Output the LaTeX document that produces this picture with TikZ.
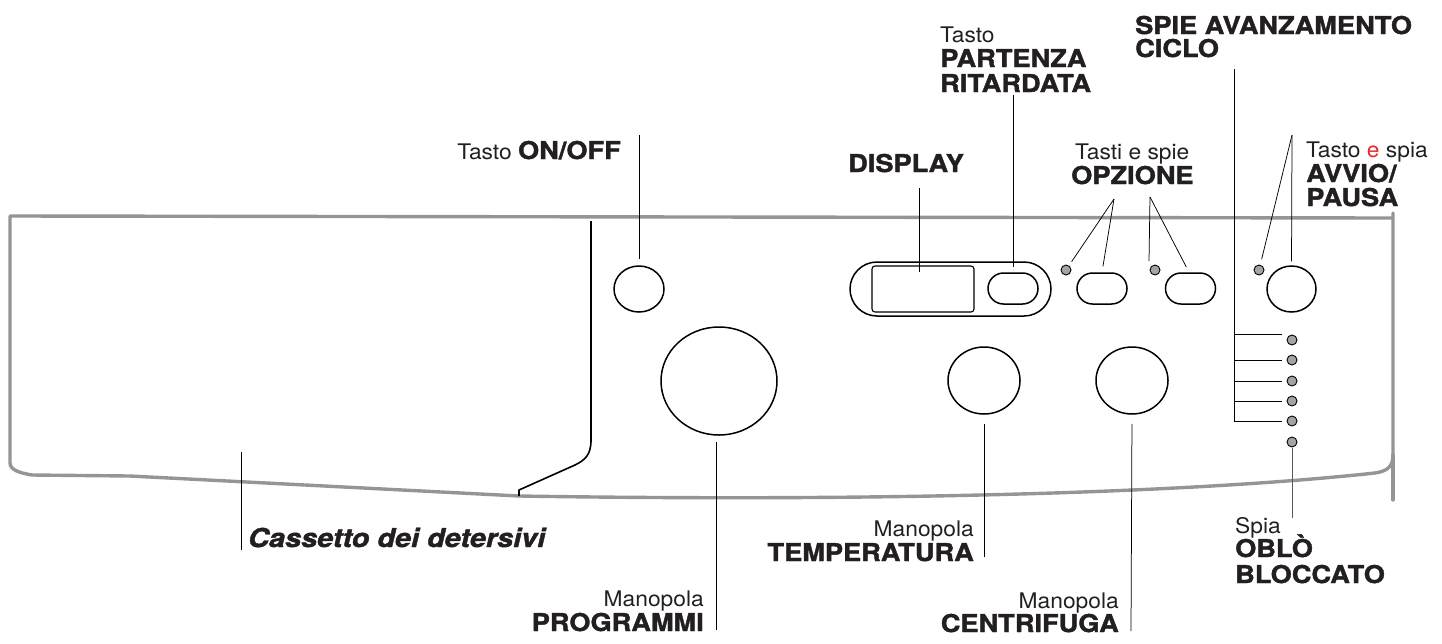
\documentclass[tikz,border=0pt]{standalone}
\usepackage{fontspec}
\usetikzlibrary{shapes.geometric}
\newfontfamily\hvyfam[FakeStretch=1.11,FakeBold=1.6]{TeX Gyre Heros}
\newfontfamily\lgtfam[FakeStretch=1.06]{TeX Gyre Heros}
\newcommand\heavytxt{\hvyfam\bfseries\fontsize{24.5}{24.5}\selectfont}
\newcommand\lighttxt{\lgtfam\fontsize{21.5}{21.5}\selectfont}
\definecolor{panelgray}{HTML}{959595}
\definecolor{ledgray}{HTML}{A4A4A4}
\definecolor{ink}{HTML}{231F20}
\definecolor{redE}{HTML}{E5262B}
\begin{document}
\begin{tikzpicture}[x=1pt,y=-1pt,
  panel/.style={draw=panelgray,line width=3.4pt,line join=round,line cap=round},
  part/.style={draw=black,line width=1.5pt,fill=white,inner sep=0pt},
  pill/.style={part,rectangle,rounded corners=15.5pt,minimum width=50pt,minimum height=31pt},
  knob/.style={part,ellipse},
  led/.style={circle,draw=black,fill=ledgray,line width=0.9pt,minimum size=10pt,inner sep=0pt},
  leader/.style={draw=black,line width=0.75pt},
  lbl/.style={inner sep=0pt,text=ink}]
\useasboundingbox (0,0) rectangle (1442,643);

% panel outline
\draw[panel] (1393,213) -- (1393,455) .. controls (1393,466) and (1388,471) .. (1375,473)
  .. controls (1200,492) and (900,502) .. (519,496) -- (130,476) -- (32,475)
  .. controls (20,473) and (10,470) .. (10,463) -- (10,216) -- (1393,218);
\draw[panel] (1393,455) -- (1393,500);
% drawer divider
\draw[draw=black,line width=1.6pt,line join=round] (591,221) -- (591,440)
  .. controls (591,455) and (585,460) .. (575,465) -- (519,490) -- (519,496);

% components
\node[knob,minimum width=50pt,minimum height=46pt] (onoff) at (639,289) {};
\node[knob,minimum width=116pt,minimum height=108pt] (prog) at (719,381) {};
\node[part,rectangle,rounded corners=27pt,minimum width=201pt,minimum height=54pt] (dispbox) at (950.5,289) {};
\node[part,rectangle,rounded corners=3pt,line width=1.1pt,minimum width=102pt,minimum height=46pt] (disprect) at (923,289) {};
\node[pill] (partbtn) at (1013,288.5) {};
\node[pill] (opz1) at (1102,288.5) {};
\node[pill] (opz2) at (1190.5,288.5) {};
\node[knob,minimum width=49pt,minimum height=46pt] (avvio) at (1291.5,289) {};
\node[knob,minimum width=72pt,minimum height=67pt] (temp) at (984,380.5) {};
\node[knob,minimum width=72pt,minimum height=67pt] (centr) at (1132,380.5) {};
\node[led] (ledA) at (1066,270) {};
\node[led] (ledB) at (1155,270) {};
\node[led] (ledAv) at (1259,270) {};
\node[led] (c1) at (1292,340) {};
\node[led] (c2) at (1292,360) {};
\node[led] (c3) at (1292,381) {};
\node[led] (c4) at (1292,401) {};
\node[led] (c5) at (1292,421) {};
\node[led] (c6) at (1292,442) {};

% labels
\node[lbl,anchor=base east] (lOnOff) at (621,159) {{\lighttxt Tasto }{\heavytxt ON/OFF}};
\node[lbl,anchor=base west] (lDisplay) at (848,172) {\heavytxt DISPLAY};
\node[lbl,anchor=base west] (lPartA) at (940,42) {\lighttxt Tasto};
\node[lbl,anchor=base west] (lPartB) at (940,67) {\heavytxt PARTENZA};
\node[lbl,anchor=base west] (lPartC) at (940,92) {\heavytxt RITARDATA};
\node[lbl,anchor=base west] (lSpieA) at (1135,34) {\heavytxt SPIE AVANZAMENTO};
\node[lbl,anchor=base west] (lSpieB) at (1135,57) {\heavytxt CICLO};
\node[lbl,anchor=base west] (lOpzA) at (1075,159) {\lighttxt Tasti e spie};
\node[lbl,anchor=base west] (lOpzB) at (1071,184) {\heavytxt OPZIONE};
\node[lbl,anchor=base west] (lAvvA) at (1306,157) {\lighttxt Tasto {\color{redE}e} spia};
\node[lbl,anchor=base west] (lAvvB) at (1306,182) {\heavytxt AVVIO/};
\node[lbl,anchor=base west] (lAvvC) at (1306,206) {\heavytxt PAUSA};
\node[lbl,anchor=base west] (lCass) at (248,547) {\hvyfam\bfseries\itshape\fontsize{26}{26}\selectfont Cassetto dei detersivi};
\node[lbl,anchor=base east] (lProgA) at (704,606) {\lighttxt Manopola};
\node[lbl,anchor=base east] (lProgB) at (704,631) {\heavytxt PROGRAMMI};
\node[lbl,anchor=base east] (lTempA) at (974,536) {\lighttxt Manopola};
\node[lbl,anchor=base east] (lTempB) at (974,561) {\heavytxt TEMPERATURA};
\node[lbl,anchor=base east] (lCentA) at (1119,608) {\lighttxt Manopola};
\node[lbl,anchor=base east] (lCentB) at (1119,632) {\heavytxt CENTRIFUGA};
\node[lbl,anchor=base west] (lOblA) at (1235,533) {\lighttxt Spia};
\node[lbl,anchor=base west] (lOblB) at (1235,557) {\heavytxt OBLÒ};
\node[lbl,anchor=base west] (lOblC) at (1235,583) {\heavytxt BLOCCATO};

% leader end points
\coordinate (onoffTop) at (639,135);
\coordinate (dispTop) at (919,188);
\coordinate (dispEnd) at (919,272);
\coordinate (partTop) at (1013,95);
\coordinate (opzApexA) at (1114,199);
\coordinate (opzApexB) at (1150,197);
\coordinate (opzLedEnd) at (1149,261);
\coordinate (spieTop) at (1234,69);
\coordinate (spieBot) at (1234,421);
\coordinate (avvApex) at (1292,135);
\coordinate (oblEnd) at (1292,518);
\coordinate (progTop) at (716,442);
\coordinate (progEnd) at (716,630);
\coordinate (tempEnd) at (984,557);
\coordinate (centEnd) at (1131,631);
\coordinate (cassTop) at (241,452);
\coordinate (cassEnd) at (241,550);

% leaders
\draw[leader,shorten >=6pt] (onoffTop) -- (onoff.north);
\draw[leader] (dispTop) -- (dispEnd);
\draw[leader,shorten >=5pt] (partTop) -- (partbtn.north);
\draw[leader,shorten >=10pt] (opzApexA) -- (ledA.center);
\draw[leader,shorten >=6pt] (opzApexA) -- (opz1.north);
\draw[leader] (opzApexB) -- (opzLedEnd);
\draw[leader,shorten >=6pt] (opzApexB) -- ([xshift=-1.5pt]opz2.north);
\draw[leader] (spieTop) -- (spieBot);
\draw[leader,shorten >=5pt] ([yshift=6pt]spieTop |- c1.west) -- ([yshift=6pt]c1.west);
\draw[leader,shorten >=5pt] (spieTop |- c2.west) -- (c2.west);
\draw[leader,shorten >=5pt] (spieTop |- c3.west) -- (c3.west);
\draw[leader,shorten >=5pt] (spieTop |- c4.west) -- (c4.west);
\draw[leader,shorten >=5pt] (spieTop |- c5.west) -- (c5.west);
\draw[leader,shorten >=11pt] (avvApex) -- (ledAv.center);
\draw[leader,shorten >=4pt] (avvApex) -- (avvio.north);
\draw[draw=black!65,line width=1pt,shorten <=1pt] (c6.south) -- (oblEnd);
\draw[leader] (progTop) -- (progEnd);
\draw[leader,shorten <=9pt] (temp.south) -- (tempEnd);
\draw[leader,shorten <=9pt] (centr.south) -- (centEnd);
\draw[leader] (cassTop) -- (cassEnd);
\end{tikzpicture}
\end{document}
